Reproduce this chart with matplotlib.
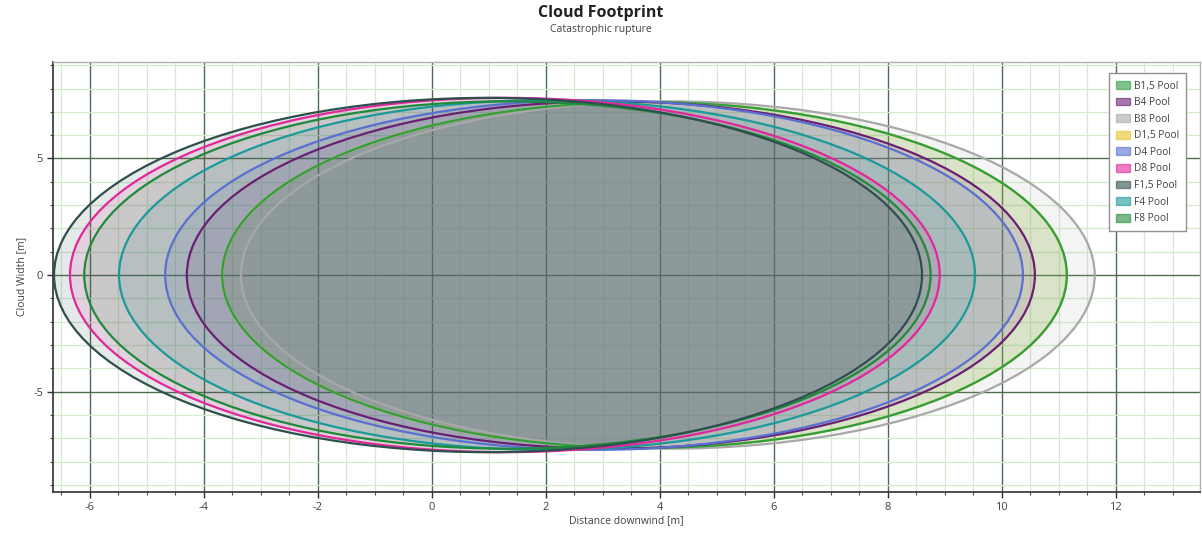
import matplotlib
matplotlib.use("Agg")
import matplotlib.pyplot as plt
from matplotlib.patches import Ellipse, Patch
from matplotlib.ticker import MultipleLocator

plt.rcParams['font.family'] = ['Open Sans', 'DejaVu Sans']
plt.rcParams['axes.unicode_minus'] = False

# ---- data ----
series = ["B1,5 Pool", "B4 Pool", "B8 Pool", "D1,5 Pool", "D4 Pool",
          "D8 Pool", "F1,5 Pool", "F4 Pool", "F8 Pool"]
x_start = [-3.68, -4.30, -3.35, -3.68, -4.68, -6.35, -6.63, -5.49, -6.10]
x_end = [11.14, 10.58, 11.63, 11.14, 10.37, 8.91, 8.60, 9.53, 8.75]
half_width = [7.42, 7.45, 7.45, 7.42, 7.50, 7.60, 7.60, 7.50, 7.45]
colors = ["#2e9e3e", "#6b1f73", "#a8a8a8", "#e6c229", "#5a6fd0",
          "#e0289a", "#2f4f4f", "#1a9a9a", "#1f8a3a"]
draw_order = [3, 2, 0, 1, 4, 7, 5, 8, 6]

fig = plt.figure(figsize=(12.02, 5.34), dpi=100)
ax = fig.add_axes([0.044, 0.079, 0.954, 0.805])
ax.set_axisbelow(True)

for i in draw_order:
    cx = (x_start[i] + x_end[i]) / 2
    w = x_end[i] - x_start[i]
    h = 2 * half_width[i]
    ax.add_patch(Ellipse((cx, 0), w, h, facecolor=colors[i], alpha=0.12,
                         edgecolor='none', zorder=2))
    ax.add_patch(Ellipse((cx, 0), w, h, facecolor='none',
                         edgecolor=colors[i], linewidth=1.6, zorder=3))

ax.set_xlim(-6.65, 13.47)
ax.set_ylim(-9.3, 9.14)

ax.xaxis.set_major_locator(MultipleLocator(2))
ax.xaxis.set_minor_locator(MultipleLocator(0.5))
ax.yaxis.set_major_locator(MultipleLocator(5))
ax.yaxis.set_minor_locator(MultipleLocator(1))

ax.grid(which='minor', color='#d3ebcb', linewidth=0.9)
ax.grid(which='major', color='#4d6b4d', linewidth=1.0)

for s in ['top', 'right']:
    ax.spines[s].set_color('#b0b0b0')
    ax.spines[s].set_linewidth(1.0)
for s in ['left', 'bottom']:
    ax.spines[s].set_color('#303030')
    ax.spines[s].set_linewidth(1.2)

ax.tick_params(which='major', length=4, width=1, color='#303030',
               labelsize=8, labelcolor='#404040', pad=3)
ax.tick_params(which='minor', length=2.5, width=0.8, color='#505050')

ax.set_xlabel("Distance downwind [m]", fontsize=7.5, color='#404040', labelpad=2)
ax.set_ylabel("Cloud Width [m]", fontsize=7.5, color='#404040', labelpad=4)

fig.text(0.5, 0.975, "Cloud Footprint", ha='center', va='center',
         fontsize=11.5, fontweight='bold', color='#202020')
fig.text(0.5, 0.944, "Catastrophic rupture", ha='center', va='center',
         fontsize=7.5, color='#404040')

handles = [Patch(facecolor=c, edgecolor=c, alpha=0.6) for c in colors]
leg = ax.legend(handles, series, loc='upper right', fontsize=7.3,
                frameon=True, fancybox=False, edgecolor='#909090',
                framealpha=1, borderpad=0.7, handlelength=1.3,
                handleheight=0.8, labelspacing=0.55, handletextpad=0.4,
                bbox_to_anchor=(0.9925, 0.985))
leg.get_frame().set_linewidth(1.0)
for t in leg.get_texts():
    t.set_color('#404040')

fig.savefig("out.png", dpi=100, facecolor='white')
